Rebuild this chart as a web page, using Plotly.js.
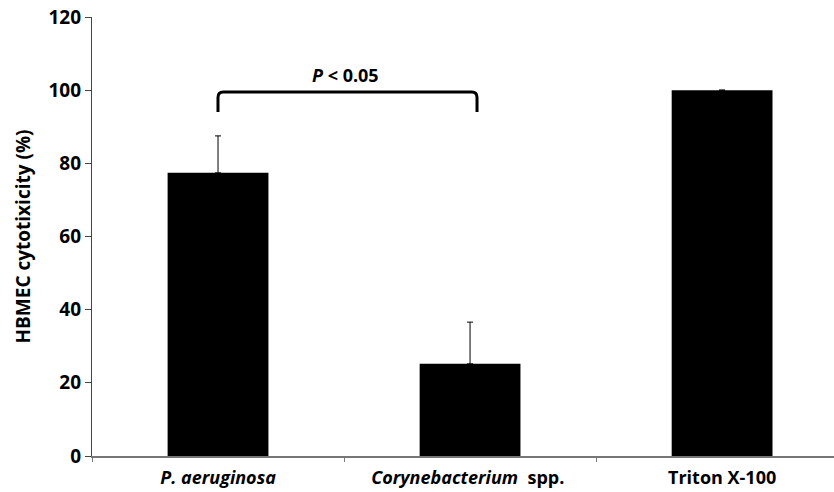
<!DOCTYPE html>
<html>
<head>
<meta charset="utf-8">
<script src="https://cdn.plot.ly/plotly-3.0.1.min.js"></script>
<style>html,body{margin:0;padding:0;background:#fff;}#chart{width:834px;height:492px;}</style>
</head>
<body>
<div id="chart"></div>
<script>
const categories = ["P. aeruginosa", "Corynebacterium spp.", "Triton X-100"];
const tickLabels = ["<i>P. aeruginosa</i>", "<i>Corynebacterium</i>  spp. ", "Triton X-100"];
const cytotoxicity = [77.4, 25.2, 100];
const errorUpper = [10.1, 11.4, 0];
const yTicks = [0, 20, 40, 60, 80, 100, 120];
const pLabel = "<i>P</i> < 0.05";

const font = "'Open Sans', Lato, sans-serif";

const trace = {
  type: "bar",
  x: categories,
  y: cytotoxicity,
  width: 0.4,
  marker: { color: "#000", line: { width: 0 } },
  error_y: {
    type: "data",
    symmetric: false,
    array: errorUpper,
    arrayminus: [0, 0, 0],
    color: "#000",
    thickness: 1,
    width: 3
  },
  hoverinfo: "none"
};

// bracket positions (paper x, data y)
const bx0 = 0.1698, bx1 = 0.5189, by0 = 94, by1 = 99.5, rx = 0.007, ry = 1.5;
const bracket = `M ${bx0},${by0} L ${bx0},${by1 - ry} Q ${bx0},${by1} ${bx0 + rx},${by1} L ${bx1 - rx},${by1} Q ${bx1},${by1} ${bx1},${by1 - ry} L ${bx1},${by0}`;

const layout = {
  width: 834,
  height: 492,
  margin: { l: 92, r: 0, t: 17, b: 36 },
  paper_bgcolor: "#fff",
  plot_bgcolor: "#fff",
  showlegend: false,
  font: { family: font, color: "#000" },
  xaxis: {
    type: "category",
    range: [-0.5, 2.444],
    tickmode: "array",
    tickvals: categories,
    ticktext: tickLabels,
    tickson: "boundaries",
    ticks: "outside",
    ticklen: 4,
    tickcolor: "#777",
    showline: true,
    linecolor: "#777",
    linewidth: 1.5,
    showgrid: false,
    zeroline: false,
    ticklabelstandoff: 5,
    tickfont: { family: font, size: 18, color: "#000", weight: "bold" },
    fixedrange: true
  },
  yaxis: {
    range: [0, 120],
    tickmode: "array",
    tickvals: yTicks,
    ticks: "outside",
    ticklen: 6,
    tickcolor: "#444",
    showline: true,
    linecolor: "#444",
    linewidth: 1.2,
    showgrid: false,
    zeroline: false,
    tickfont: { family: font, size: 19, color: "#000", weight: "bold" },
    title: { text: "HBMEC cytotixicity (%)", font: { family: font, size: 19, color: "#000", weight: "bold" }, standoff: 12 },
    fixedrange: true
  },
  shapes: [
    { type: "path", xref: "paper", yref: "y", path: bracket, line: { color: "#000", width: 3 } }
  ],
  annotations: [
    { xref: "paper", yref: "paper", x: (345 - 92) / 742, y: (456 - 75) / 439, text: pLabel, showarrow: false,
      font: { family: font, size: 18, color: "#000", weight: "bold" }, xanchor: "center", yanchor: "middle" }
  ]
};

Plotly.newPlot("chart", [trace], layout, { staticPlot: true, displayModeBar: false });
</script>
</body>
</html>
